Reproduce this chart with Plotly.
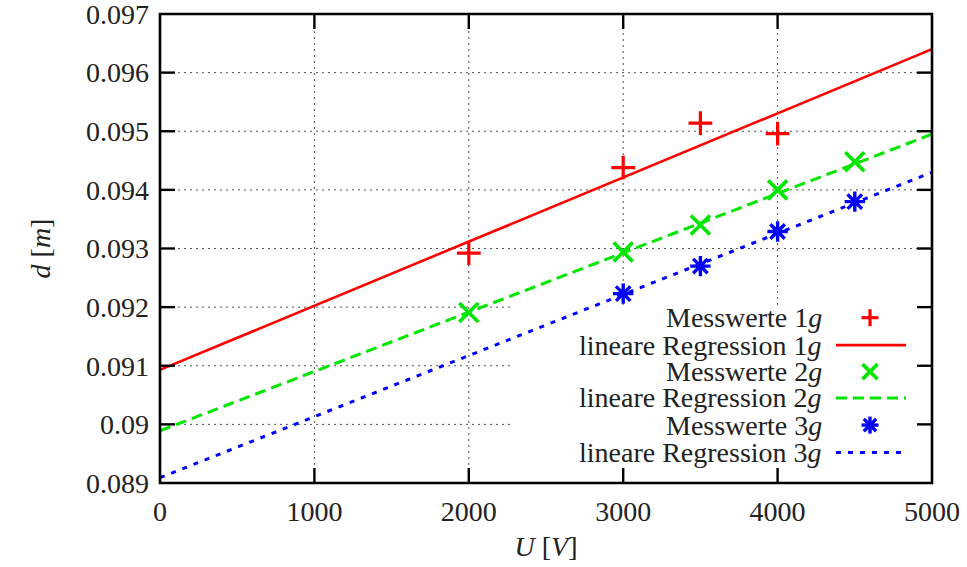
import plotly.graph_objects as go

# ---------------- data ----------------
U1 = [2000, 3000, 3500, 4000]
d1 = [0.09292, 0.09438, 0.09514, 0.09496]
U2 = [2000, 3000, 3500, 4000, 4500]
d2 = [0.09191, 0.09294, 0.09340, 0.09400, 0.09448]
U3 = [3000, 3500, 4000, 4500]
d3 = [0.09223, 0.09270, 0.09329, 0.09380]

# regression lines (end values over the plotted range)
reg_U = [0, 5000]
reg1 = [0.09093, 0.09640]
reg2 = [0.08989, 0.09495]
reg3 = [0.08909, 0.09430]

x_ticks = [0, 1000, 2000, 3000, 4000, 5000]
x_ticktext = ["0", "1000", "2000", "3000", "4000", "5000"]
y_ticks = [0.089, 0.090, 0.091, 0.092, 0.093, 0.094, 0.095, 0.096, 0.097]
y_ticktext = ["0.089", "0.09", "0.091", "0.092", "0.093", "0.094", "0.095", "0.096", "0.097"]

names = ["Messwerte 1<i>g</i>", "lineare Regression 1<i>g</i>",
         "Messwerte 2<i>g</i>", "lineare Regression 2<i>g</i>",
         "Messwerte 3<i>g</i>", "lineare Regression 3<i>g</i>"]

X_RANGE = [0, 5000]
Y_RANGE = [0.089, 0.097]

RED = "#ff0000"
GREEN = "#00e600"
BLUE = "#0000ff"
FONT = "Liberation Serif"
FS = 28
TXT = "#222"
GRID = dict(color="#555", width=1, dash="2px,4px")

m1 = dict(symbol="cross-thin", size=17, line=dict(color=RED, width=3.2), color=RED)
m2 = dict(symbol="x-thin", size=19, line=dict(color=GREEN, width=3.6), color=GREEN)
m3 = dict(symbol="asterisk", size=17, line=dict(color=BLUE, width=3.4), color=BLUE)
l1 = dict(color=RED, width=2.6)
l2 = dict(color=GREEN, width=3, dash="11px,6px")
l3 = dict(color=BLUE, width=3, dash="5px,7px")

fig = go.Figure()

# data traces
fig.add_trace(go.Scatter(x=reg_U, y=reg1, mode="lines", line=l1, showlegend=False))
fig.add_trace(go.Scatter(x=reg_U, y=reg2, mode="lines", line=l2, showlegend=False))
fig.add_trace(go.Scatter(x=reg_U, y=reg3, mode="lines", line=l3, showlegend=False))
fig.add_trace(go.Scatter(x=U1, y=d1, mode="markers", marker=m1, showlegend=False))
fig.add_trace(go.Scatter(x=U2, y=d2, mode="markers", marker=m2, showlegend=False))
fig.add_trace(go.Scatter(x=U3, y=d3, mode="markers", marker=m3, showlegend=False))

# ---------------- frame, ticks, grid ----------------
PW, PH = 772.0, 469.0          # plot area size in px (for symbol geometry)
KEY_X0, KEY_Y1 = 0.4585, 0.3795   # opaque key box (plot fractions): grid stops there
TL = 15.0                          # tick length, px


def fx(v):
    return (v - X_RANGE[0]) / (X_RANGE[1] - X_RANGE[0])


def fy(v):
    return (v - Y_RANGE[0]) / (Y_RANGE[1] - Y_RANGE[0])


# dotted grid, interrupted by the opaque key box
for xv in x_ticks[1:-1]:
    xf = fx(xv)
    y0 = KEY_Y1 if xf > KEY_X0 else 0.0
    fig.add_shape(type="line", xref="paper", yref="paper", x0=xf, x1=xf, y0=y0, y1=1,
                  line=GRID, layer="below")
for yv in y_ticks[1:-1]:
    yf = fy(yv)
    x1 = KEY_X0 if yf < KEY_Y1 else 1.0
    fig.add_shape(type="line", xref="paper", yref="paper", x0=0, x1=x1, y0=yf, y1=yf,
                  line=GRID, layer="below")

# inward ticks on all four sides
TICK = dict(color="black", width=2.4)
for xv in x_ticks[1:-1]:
    xf = fx(xv)
    fig.add_shape(type="line", xref="paper", yref="paper", x0=xf, x1=xf, y0=0, y1=TL / PH,
                  line=TICK, layer="above")
    fig.add_shape(type="line", xref="paper", yref="paper", x0=xf, x1=xf, y0=1 - TL / PH, y1=1,
                  line=TICK, layer="above")
for yv in y_ticks[1:-1]:
    yf = fy(yv)
    fig.add_shape(type="line", xref="paper", yref="paper", x0=0, x1=TL / PW, y0=yf, y1=yf,
                  line=TICK, layer="above")
    fig.add_shape(type="line", xref="paper", yref="paper", x0=1 - TL / PW, x1=1, y0=yf, y1=yf,
                  line=TICK, layer="above")

# border
fig.add_shape(type="rect", xref="paper", yref="paper", x0=0, x1=1, y0=0, y1=1,
              line=dict(color="black", width=2.6), fillcolor="rgba(0,0,0,0)", layer="above")

# ---------------- key (gnuplot style, symbol on the right) ----------------
row_y = [0.3525, 0.294, 0.2375, 0.1815, 0.1235, 0.0650]
text_x = 0.8600
samp_x = [0.8756, 0.9663]
mark_x = 0.9197


def seg(x0, y0, x1, y1, color, width, dash="solid"):
    fig.add_shape(type="line", xref="paper", yref="paper", x0=x0, y0=y0, x1=x1, y1=y1,
                  line=dict(color=color, width=width, dash=dash), layer="above")


def plus(cx, cy, r, color, width):
    seg(cx - r / PW, cy, cx + r / PW, cy, color, width)
    seg(cx, cy - r / PH, cx, cy + r / PH, color, width)


def cross(cx, cy, r, color, width):
    seg(cx - r / PW, cy - r / PH, cx + r / PW, cy + r / PH, color, width)
    seg(cx - r / PW, cy + r / PH, cx + r / PW, cy - r / PH, color, width)


plus(mark_x, row_y[0], 8.5, RED, 3.2)
seg(samp_x[0], row_y[1], samp_x[1], row_y[1], RED, 2.6)
cross(mark_x, row_y[2], 7.5, GREEN, 3.6)
seg(samp_x[0], row_y[3], samp_x[1], row_y[3], GREEN, 3, "11px,6px")
plus(mark_x, row_y[4], 8.5, BLUE, 3.4)
cross(mark_x, row_y[4], 6.2, BLUE, 3.4)
seg(samp_x[0], row_y[5], samp_x[1], row_y[5], BLUE, 3, "5px,7px")

for name, yy in zip(names, row_y):
    fig.add_annotation(x=text_x, y=yy, xref="paper", yref="paper", text=name,
                       showarrow=False, xanchor="right", yanchor="middle",
                       font=dict(family=FONT, size=FS, color=TXT))

axis_common = dict(showline=False, ticks="", showgrid=False, zeroline=False,
                   automargin=False, ticklabeloverflow="allow",
                   tickfont=dict(family=FONT, size=FS, color=TXT))

fig.update_layout(
    template="none",
    width=967, height=567,
    margin=dict(l=160, r=35, t=14, b=84, autoexpand=False),
    paper_bgcolor="white", plot_bgcolor="white",
    showlegend=False,
    xaxis=dict(range=X_RANGE, tickvals=x_ticks, ticktext=x_ticktext,
               ticklabelstandoff=9,
               title=dict(text="<i>U</i> [<i>V</i>]", font=dict(family=FONT, size=FS, color=TXT), standoff=10),
               **axis_common),
    yaxis=dict(range=Y_RANGE, tickvals=y_ticks, ticktext=y_ticktext,
               ticklabelstandoff=10,
               title=dict(text="<i>d</i> [<i>m</i>]", font=dict(family=FONT, size=FS, color=TXT), standoff=27),
               **axis_common),
)

fig.write_html("out.html", config={"displayModeBar": False},
               post_script="document.body.style.margin='0';")
